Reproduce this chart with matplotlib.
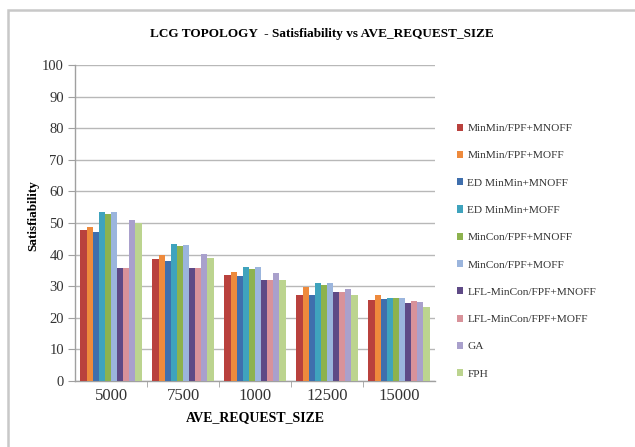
import matplotlib
matplotlib.use("Agg")
import matplotlib.pyplot as plt
from matplotlib.patches import Rectangle
import numpy as np

categories = ["5000", "7500", "1000", "12500", "15000"]
series_names = [
    "MinMin/FPF+MNOFF",
    "MinMin/FPF+MOFF",
    "ED MinMin+MNOFF",
    "ED MinMin+MOFF",
    "MinCon/FPF+MNOFF",
    "MinCon/FPF+MOFF",
    "LFL-MinCon/FPF+MNOFF",
    "LFL-MinCon/FPF+MOFF",
    "GA",
    "FPH",
]
minmin_mnoff = [47.8, 38.5, 33.5, 27.2, 25.6]
minmin_moff = [48.8, 40.0, 34.6, 29.6, 27.2]
ed_minmin_mnoff = [47.0, 38.0, 33.3, 27.2, 25.9]
ed_minmin_moff = [53.4, 43.3, 36.2, 31.1, 26.3]
mincon_mnoff = [53.0, 42.8, 35.3, 30.4, 26.3]
mincon_moff = [53.4, 43.0, 36.2, 31.1, 26.2]
lfl_mincon_mnoff = [35.7, 35.7, 32.0, 28.1, 24.8]
lfl_mincon_moff = [35.7, 35.7, 32.0, 28.1, 25.4]
ga = [51.0, 40.2, 34.3, 29.1, 25.1]
fph = [49.9, 38.8, 32.0, 27.2, 23.5]

series_values = [minmin_mnoff, minmin_moff, ed_minmin_mnoff, ed_minmin_moff,
                 mincon_mnoff, mincon_moff, lfl_mincon_mnoff, lfl_mincon_moff,
                 ga, fph]
colors = ["#b9413d", "#ee8a3c", "#3f6fad", "#3fa3bd", "#8db24e",
          "#9bb5dd", "#5e4a86", "#d8929a", "#a9a0cc", "#bcd48f"]

plt.rcParams["font.family"] = ["Liberation Serif", "DejaVu Serif"]

fig = plt.figure(figsize=(6.35, 4.47), dpi=100)
fig.patch.set_facecolor("white")

# light chart-area frame
fig.patches.append(Rectangle((8 / 635, -0.2), 1.2, 1.2 - 10 / 447,
                             transform=fig.transFigure, fill=False,
                             edgecolor="#c8c8c8", linewidth=1.8))

ax = fig.add_axes([75 / 635, 1 - 381 / 447, 360 / 635, 316 / 447])

n = len(series_names)
group_w = 0.85
bw = group_w / n
x = np.arange(len(categories))
for i, (name, vals, c) in enumerate(zip(series_names, series_values, colors)):
    ax.bar(x - group_w / 2 + bw * (i + 0.5), vals, width=bw, color=c,
           label=name, zorder=3, linewidth=0)

ax.set_xlim(-0.5, len(categories) - 0.5)
ax.set_ylim(0, 100)
ax.set_yticks(range(0, 101, 10))
ax.yaxis.grid(True, color="#b8b8b8", linewidth=1.0, zorder=0)
ax.set_axisbelow(True)

ax.set_xticks(x)
ax.set_xticklabels(categories)
ax.tick_params(axis="x", length=0, pad=5, labelsize=12, labelcolor="#333333")
ax.set_xticks(np.arange(0.5, len(categories) - 0.5, 1.0), minor=True)
ax.tick_params(axis="x", which="minor", length=4, color="#a0a0a0")
ax.tick_params(axis="y", length=5, color="#a0a0a0", labelsize=10.5,
               labelcolor="#333333", pad=3)

for s in ["top", "right"]:
    ax.spines[s].set_visible(False)
for s in ["left", "bottom"]:
    ax.spines[s].set_color("#a0a0a0")
    ax.spines[s].set_linewidth(1.0)

ax.set_xlabel("AVE_REQUEST_SIZE", fontsize=10, fontweight="bold")
ax.xaxis.set_label_coords((255 - 75) / 360, -(418 - 381) / 316)
ax.xaxis.label.set_va("center")
ax.set_ylabel("Satisfiability", fontsize=9.5, fontweight="bold")
ax.yaxis.set_label_coords(-(75 - 33) / 360, (381 - 216) / 316)
ax.yaxis.label.set_va("center")

fig.text(322 / 635, 1 - 34 / 447, "LCG TOPOLOGY  - Satisfiability vs AVE_REQUEST_SIZE",
         ha="center", va="center", fontsize=9.5, fontweight="bold")

leg = ax.legend(loc="upper left",
                bbox_to_anchor=((452 - 75) / 360, 1 - (119 - 65) / 316),
                frameon=False, fontsize=8.2, handlelength=0.6, handleheight=0.6,
                handletextpad=0.35, labelspacing=1.55, borderaxespad=0)
for t in leg.get_texts():
    t.set_color("#333333")

fig.savefig("out.png", dpi=100, facecolor="white")
